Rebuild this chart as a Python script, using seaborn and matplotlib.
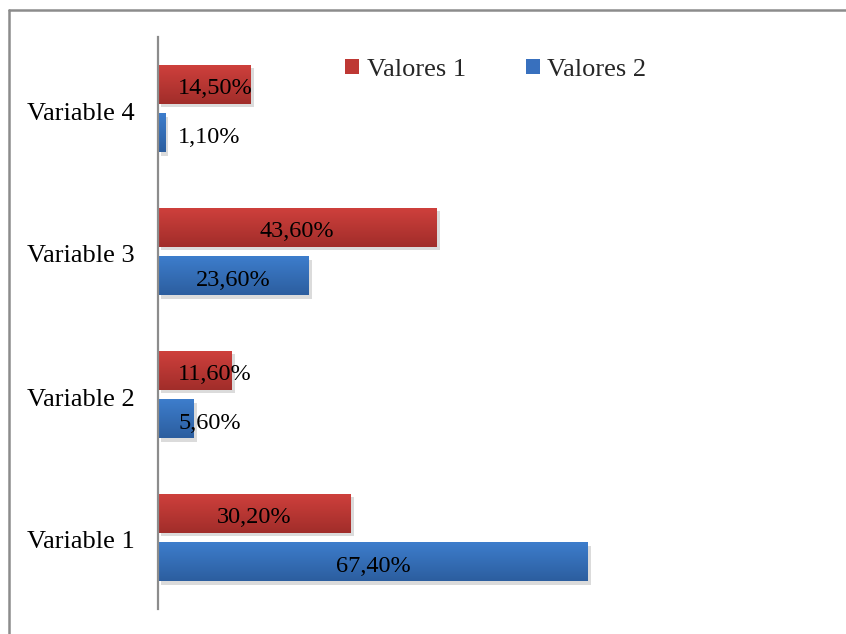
import numpy as np
import pandas as pd
import matplotlib
matplotlib.use("Agg")
import matplotlib.pyplot as plt
import matplotlib.patheffects as pe
import matplotlib.transforms as mtrans
from matplotlib.patches import Patch
from matplotlib.lines import Line2D
from matplotlib.colors import LinearSegmentedColormap
import seaborn as sns

categories = ["Variable 4", "Variable 3", "Variable 2", "Variable 1"]
valores_1 = [14.5, 43.6, 11.6, 30.2]
valores_2 = [1.1, 23.6, 5.6, 67.4]
series = ["Valores 1", "Valores 2"]

colors = {"Valores 1": "#BE3834", "Valores 2": "#3870BE"}
grad = {"Valores 1": ("#CE403C", "#A12D2A"), "Valores 2": ("#3D7DCC", "#2C5E9F")}

df = pd.DataFrame({
    "cat": categories * 2,
    "serie": [series[0]] * 4 + [series[1]] * 4,
    "val": valores_1 + valores_2,
})

sns.set_theme(style="white")
plt.rcParams["font.family"] = ["Liberation Serif", "DejaVu Serif"]

W, H = 846, 634
fig = plt.figure(figsize=(W / 100, H / 100), dpi=100)
ax = fig.add_axes([158 / W, 1 - 609 / H, (829 - 158) / W, (609 - 37) / H])

sns.barplot(data=df, y="cat", x="val", hue="serie", order=categories,
            hue_order=series, palette=colors, orient="h", width=0.68,
            gap=0.2, legend=False, ax=ax, saturation=1, edgecolor="none")

# gradient + soft shadow on bars
for cont, s in zip(ax.containers, series):
    cmap = LinearSegmentedColormap.from_list(s, [grad[s][0], grad[s][1]])
    for p in cont:
        p.set_path_effects([pe.SimplePatchShadow(offset=(2.5, -2.5), shadow_rgbFace="#000000", alpha=0.14), pe.Normal()])
        x0, y0 = p.get_x(), p.get_y()
        w, h = p.get_width(), p.get_height()
        g = np.linspace(0, 1, 64).reshape(-1, 1)
        im = ax.imshow(g, cmap=cmap, extent=[x0, x0 + w, y0 + h, y0],
                       aspect="auto", zorder=p.get_zorder() + 0.1, interpolation="bilinear")
        im.set_clip_path(p)

ax.set_xlim(0, 105.2)
ax.set_ylim(3.5, -0.5)

# data labels
for cont, s in zip(ax.containers, series):
    for p in cont:
        v = p.get_width()
        yc = p.get_y() + p.get_height() / 2
        txt = f"{v:.2f}".replace(".", ",") + "%"
        if v < 20:
            ax.annotate(txt, (0, yc), xytext=(14.5, -3.2), textcoords="offset points",
                        ha="left", va="center", fontsize=17.5, color="black", zorder=10)
        else:
            ax.annotate(txt, (v / 2, yc), xytext=(0, -3.2), textcoords="offset points",
                        ha="center", va="center", fontsize=17.5, color="black", zorder=10)

ax.set_xlabel("")
ax.set_ylabel("")
ax.set_xticks([])
ax.tick_params(axis="y", length=0, pad=16.5, labelsize=19, labelcolor="black")
shift = mtrans.ScaledTranslation(0, -2.5 / 100, fig.dpi_scale_trans)
for lab in ax.get_yticklabels():
    lab.set_transform(lab.get_transform() + shift)
for side in ["top", "right", "bottom"]:
    ax.spines[side].set_visible(False)
ax.spines["left"].set_color("#8C8C8C")
ax.spines["left"].set_linewidth(1.6)

handles = [Patch(facecolor=colors[s], edgecolor="none") for s in series]
fig.legend(handles, series, loc="center", bbox_to_anchor=(496 / W, 1 - 70 / H),
           ncol=2, frameon=False, fontsize=19, handlelength=0.5, handleheight=0.5,
           handletextpad=0.3, columnspacing=2.3)

# outer chart border (partial, as in reference)
fig.add_artist(Line2D([8.5 / W, 8.5 / W], [0, 1 - 9.5 / H], color="#8C8C8C", lw=1.8,
                      transform=fig.transFigure))
fig.add_artist(Line2D([8.5 / W, 1], [1 - 9.5 / H, 1 - 9.5 / H], color="#8C8C8C", lw=1.8,
                      transform=fig.transFigure))

fig.savefig("out.png", dpi=100)
